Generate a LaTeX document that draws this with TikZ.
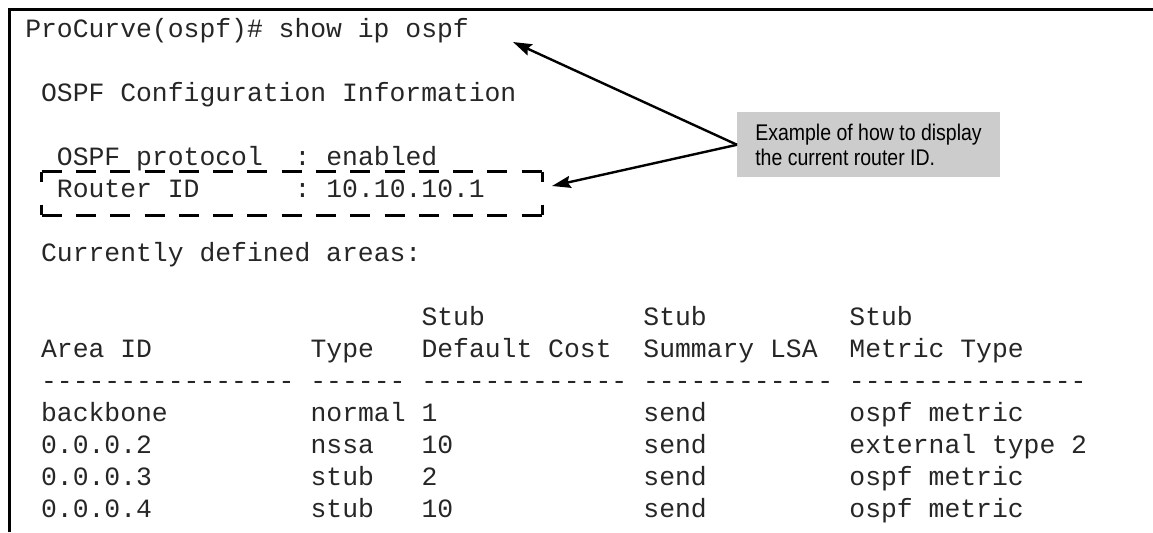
\documentclass[tikz,border=0pt]{standalone}
\usepackage{fontspec}
\setmainfont{Liberation Sans}
\setmonofont{Liberation Mono}
\newfontfamily\notefont{Liberation Sans}[FakeStretch=0.86]
\usetikzlibrary{arrows.meta}

\tikzset{
    cli/.style={anchor=base west, inner sep=0pt, text=black!85,
        font=\ttfamily\fontsize{19.8}{24}\selectfont},
    frameline/.style={line width=2.25pt, line join=miter},
    idedge/.style={line width=2pt, line cap=butt},
    callout/.style={fill=black!20, inner xsep=13.5pt, minimum height=48.75pt,
        align=left, font=\notefont\fontsize{17}{19}\selectfont},
    pointer/.style={line width=1.8pt, -{Stealth[length=14pt, width=9pt, inset=2pt]}}
}

\begin{document}
\begin{tikzpicture}[x=0.75pt, y=-0.75pt]
    % variables
    \def\colX{25}
    \def\colW{15.85}
    \def\rowY{37}
    \def\rowH{32}

    \useasboundingbox (0, 0) rectangle (1153, 532);

    % Frame (top and left only)
    \draw[frameline] (9.5, 532) -- (9.5, 9.5) -- (1153, 9.5);

    % Command and configuration
    \node[cli] (cmd) at (\colX, \rowY) {ProCurve(ospf)\# show ip ospf};
    \node[cli] (cfg) at (\colX + \colW, \rowY + 2*\rowH) {OSPF Configuration Information};
    \node[cli] (proto) at (\colX + 2*\colW, \rowY + 4*\rowH) {OSPF protocol};
    \node[cli] (protoval) at (\colX + 17*\colW, \rowY + 4*\rowH) {: enabled};
    \node[cli] (rid) at (\colX + 2*\colW, \rowY + 5*\rowH) {Router ID};
    \node[cli] (ridval) at (\colX + 17*\colW, \rowY + 5*\rowH) {: 10.10.10.1};
    \node[cli] (areas) at (\colX + \colW, \rowY + 7*\rowH) {Currently defined areas:};

    % Table head
    \node[cli] (stubcost) at (\colX + 25*\colW, \rowY + 9*\rowH) {Stub};
    \node[cli] (stublsa) at (\colX + 39*\colW, \rowY + 9*\rowH) {Stub};
    \node[cli] (stubmetric) at (\colX + 52*\colW, \rowY + 9*\rowH) {Stub};
    \node[cli] (hdarea) at (\colX + \colW, \rowY + 10*\rowH) {Area ID};
    \node[cli] (hdtype) at (\colX + 18*\colW, \rowY + 10*\rowH) {Type};
    \node[cli] (hdcost) at (\colX + 25*\colW, \rowY + 10*\rowH) {Default Cost};
    \node[cli] (hdlsa) at (\colX + 39*\colW, \rowY + 10*\rowH) {Summary LSA};
    \node[cli] (hdmetric) at (\colX + 52*\colW, \rowY + 10*\rowH) {Metric Type};
    \node[cli] (rule) at (\colX + \colW, \rowY + 11*\rowH)
        {---------------- ------ ------------- ------------ ---------------};

    % Table rows
    \node[cli] (area1) at (\colX + \colW, \rowY + 12*\rowH) {backbone};
    \node[cli] (type1) at (\colX + 18*\colW, \rowY + 12*\rowH) {normal};
    \node[cli] (cost1) at (\colX + 25*\colW, \rowY + 12*\rowH) {1};
    \node[cli] (lsa1) at (\colX + 39*\colW, \rowY + 12*\rowH) {send};
    \node[cli] (metric1) at (\colX + 52*\colW, \rowY + 12*\rowH) {ospf metric};

    \node[cli] (area2) at (\colX + \colW, \rowY + 13*\rowH) {0.0.0.2};
    \node[cli] (type2) at (\colX + 18*\colW, \rowY + 13*\rowH) {nssa};
    \node[cli] (cost2) at (\colX + 25*\colW, \rowY + 13*\rowH) {10};
    \node[cli] (lsa2) at (\colX + 39*\colW, \rowY + 13*\rowH) {send};
    \node[cli] (metric2) at (\colX + 52*\colW, \rowY + 13*\rowH) {external type 2};

    \node[cli] (area3) at (\colX + \colW, \rowY + 14*\rowH) {0.0.0.3};
    \node[cli] (type3) at (\colX + 18*\colW, \rowY + 14*\rowH) {stub};
    \node[cli] (cost3) at (\colX + 25*\colW, \rowY + 14*\rowH) {2};
    \node[cli] (lsa3) at (\colX + 39*\colW, \rowY + 14*\rowH) {send};
    \node[cli] (metric3) at (\colX + 52*\colW, \rowY + 14*\rowH) {ospf metric};

    \node[cli] (area4) at (\colX + \colW, \rowY + 15*\rowH) {0.0.0.4};
    \node[cli] (type4) at (\colX + 18*\colW, \rowY + 15*\rowH) {stub};
    \node[cli] (cost4) at (\colX + 25*\colW, \rowY + 15*\rowH) {10};
    \node[cli] (lsa4) at (\colX + 39*\colW, \rowY + 15*\rowH) {send};
    \node[cli] (metric4) at (\colX + 52*\colW, \rowY + 15*\rowH) {ospf metric};

    % Dashed box round the router ID
    \node[minimum width=375pt, minimum height=32.25pt, inner sep=0pt] (ridbox) at (292, 193.5) {};
    \draw[idedge, dash pattern=on 15pt off 10.714pt] (ridbox.north west) -- (ridbox.north east);
    \draw[idedge, dash pattern=on 15pt off 10.714pt] (ridbox.south west) -- (ridbox.south east);
    \draw[idedge, dash pattern=on 7.5pt off 17.25pt] (ridbox.north west) -- (ridbox.south west);
    \draw[idedge, dash pattern=on 7.5pt off 17.25pt] (ridbox.north east) -- (ridbox.south east);

    % Callout
    \node[callout, anchor=north west] (note) at (737, 112) {Example of how to display\\the current router ID.};

    % Arrows
    \coordinate (cmdtip) at (513, 42);
    \coordinate (ridtip) at (552, 186);
    \draw[pointer] (note.west) -- (cmdtip);
    \draw[pointer] (note.west) -- (ridtip);
\end{tikzpicture}
\end{document}
